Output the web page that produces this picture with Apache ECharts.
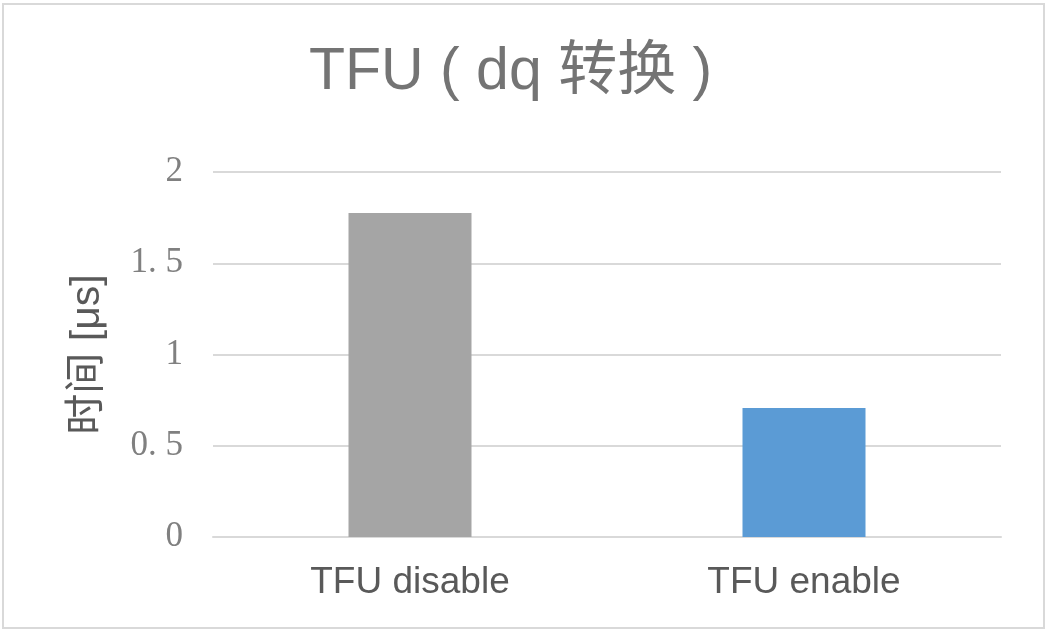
<!DOCTYPE html>
<html>
<head>
<meta charset="utf-8">
<script src="https://cdn.jsdelivr.net/npm/echarts@6/dist/echarts.min.js"></script>
<style>
  html, body { margin: 0; padding: 0; background: #fff; }
  #main { width: 1052px; height: 634px; }
</style>
</head>
<body>
<div id="main"></div>
<script>
// 数据
var categories = ['TFU disable', 'TFU enable'];
var times = [1.775, 0.707];
var barColors = ['#A5A5A5', '#5B9BD5'];
var yTicks = [0, 0.5, 1, 1.5, 2];

var chart = echarts.init(document.getElementById('main'));
var option = {
    backgroundColor: '#fff',
    animation: false,
    title: {
        text: 'TFU ( dq 转换 )',
        left: 304,
        top: 38,
        textStyle: {
            fontFamily: 'Liberation Sans, Noto Sans CJK SC',
            fontSize: 59,
            fontWeight: 'normal',
            color: '#747474'
        }
    },
    graphic: [{
        type: 'rect',
        shape: { x: 3, y: 4, width: 1041, height: 624 },
        style: { fill: 'none', stroke: '#d9d9d9', lineWidth: 2 },
        silent: true
    }],
    grid: {
        left: 213,
        right: 51,
        top: 172,
        bottom: 97
    },
    xAxis: {
        type: 'category',
        data: categories,
        axisLine: { lineStyle: { color: '#d9d9d9', width: 2 } },
        axisTick: { show: false },
        axisLabel: {
            margin: 27,
            fontFamily: 'Liberation Sans',
            fontSize: 37,
            color: '#595959'
        }
    },
    yAxis: {
        type: 'value',
        min: yTicks[0],
        max: yTicks[yTicks.length - 1],
        interval: 0.5,
        name: '时间 [μs]',
        nameLocation: 'middle',
        nameRotate: 90,
        nameGap: 105,
        nameTextStyle: {
            fontFamily: 'Liberation Sans, Noto Sans CJK SC',
            fontSize: 41,
            color: '#595959'
        },
        axisLine: { show: false },
        axisTick: { show: false },
        splitLine: { lineStyle: { color: '#d9d9d9', width: 2 } },
        axisLabel: {
            margin: 30,
            fontFamily: 'Liberation Serif',
            fontSize: 35,
            color: '#808080',
            formatter: function (v) { return String(v).replace('.', '. '); }
        }
    },
    series: [{
        type: 'bar',
        barWidth: 123,
        data: times.map(function (v, i) {
            return { value: v, itemStyle: { color: barColors[i] } };
        })
    }]
};
chart.setOption(option);
</script>
</body>
</html>
